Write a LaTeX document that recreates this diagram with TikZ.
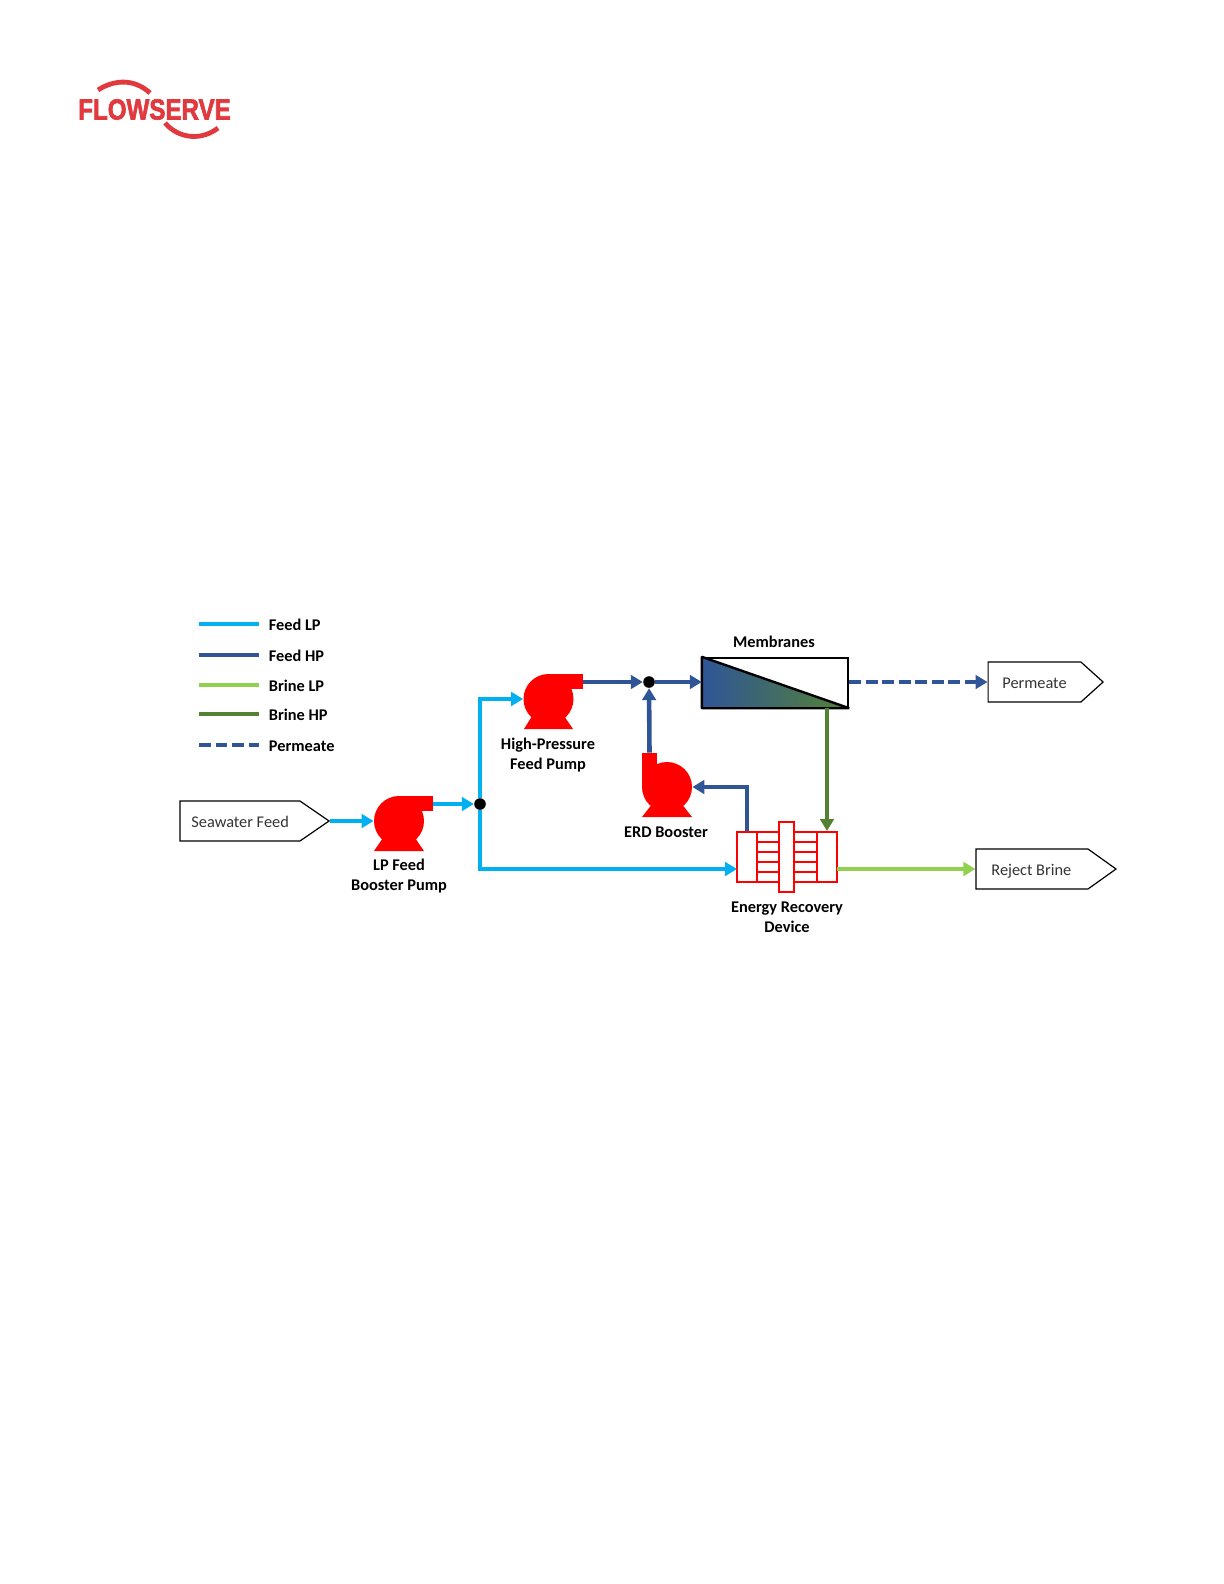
\documentclass[tikz,border=0pt]{standalone}
\usepackage{fontspec}
\setmainfont{Carlito}
\newfontfamily\logofont[BoldFeatures={FakeBold=2.4}]{Liberation Sans}
\usepackage{xcolor}
\definecolor{feedlpc}{HTML}{00B0F0}
\definecolor{feedhpc}{HTML}{2F5597}
\definecolor{brinelpc}{HTML}{92D050}
\definecolor{brinehpc}{HTML}{548235}
\definecolor{logored}{HTML}{E0393E}
\usetikzlibrary{calc, positioning, shapes.symbols, arrows.meta}

\tikzset{
  flow/.style={line width=2.3pt, -{Triangle[length=6pt, width=6.8pt]}},
  feedlp/.style={flow, feedlpc},
  feedhp/.style={flow, feedhpc},
  brinelp/.style={flow, brinelpc},
  brinehp/.style={flow, brinehpc},
  perm/.style={flow, feedhpc, dash pattern=on 6pt off 2.3pt},
  legline/.style={line width=2.2pt},
  legtext/.style={anchor=west, inner sep=0pt, text height=8pt, text depth=1.6pt, font=\fontsize{8.2}{10}\selectfont\bfseries},
  tag/.style={inner sep=0pt, align=center, font=\fontsize{8.2}{10}\selectfont\bfseries},
  portbox/.style={signal, signal to=east, draw=black, line width=0.6pt, inner sep=0pt, minimum height=20bp},
  porttext/.style={anchor=west, inner sep=0pt, text height=8pt, text depth=1.6pt, text=black!80, font=\fontsize{8.2}{10}\selectfont},
  pumpbody/.style={circle, fill=red, inner sep=0pt, minimum size=25bp},
  pumpout/.style={rectangle, fill=red, inner sep=0pt, minimum width=17bp, minimum height=7.5bp},
  junc/.style={circle, fill=black, inner sep=0pt, minimum size=5.8bp},
  erdpart/.style={rectangle, draw=red, fill=white, line width=1pt, inner sep=0pt}
}

\begin{document}
\begin{tikzpicture}[x=0.5bp, y=-0.5bp]
  \useasboundingbox (0,0) rectangle (1224,1584);

  % logo
  \node[inner sep=0pt, text=logored] (logo) at (154.5,109.5) {\scalebox{0.83}[1]{\fontsize{14.6}{16}\logofont\bfseries FLOWSERVE}};
  \draw[logored, line width=2.4pt] (98,90) .. controls (115,79) and (135,79) .. (150,93);
  \draw[logored, line width=2.4pt] (165,123) .. controls (180,140) and (203,140) .. (218,128);

  % legend
  \foreach \yy/\sty/\txt/\nm in {624/feedlpc/Feed LP/a, 655/feedhpc/Feed HP/b, 685/brinelpc/Brine LP/c, 714/brinehpc/Brine HP/d}{
    \coordinate (leg\nm) at (199,\yy);
    \draw[legline, \sty] (leg\nm) -- ++(60,0);
    \node[legtext] (legt\nm) at (268.5,\yy) {\txt};
  }
  \coordinate (lege) at (199,745);
  \draw[legline, feedhpc, dash pattern=on 6pt off 2.3pt] (lege) -- ++(60,0);
  \node[legtext] (legte) at (268.5,745) {Permeate};

  % end boxes
  \node[portbox, signal pointer angle=69, minimum width=74.5bp] (seawater) at (240,821) {};
  \node[porttext] (seawatert) at (191,821) {Seawater Feed};
  \node[portbox, signal pointer angle=84, minimum width=57.5bp] (permeate) at (1034.5,682) {};
  \node[porttext] (permeatet) at (1002,682) {Permeate};
  \node[portbox, signal pointer angle=71, minimum width=70bp] (reject) at (1032,869) {};
  \node[porttext] (rejectt) at (991,869) {Reject Brine};

  % pumps
  \fill[red] (385,835) -- (413,835) -- (424,851) -- (374,851) -- cycle;
  \node[pumpbody] (lppump) at (399,821) {};
  \node[pumpout] (lpout) at (416,803.5) {};
  \node[tag] (lplabel) at (399,876.5) {LP Feed\\Booster Pump};

  \fill[red] (534,713) -- (562,713) -- (573,729) -- (524,729) -- cycle;
  \node[pumpbody] (hppump) at (548.5,699) {};
  \node[pumpout] (hpout) at (566,681.5) {};
  \node[tag] (hplabel) at (548,755) {High-Pressure\\Feed Pump};

  \fill[red] (653,803) -- (681,803) -- (692,817) -- (642,817) -- cycle;
  \node[pumpbody] (erdpump) at (667,787) {};
  \node[pumpout, minimum width=7.5bp, minimum height=17bp] (erdout) at (649.5,770) {};
  \node[tag] (erdlabel) at (666,832) {ERD Booster};

  % membranes
  \node[rectangle, draw=black, line width=1.2pt, inner sep=0pt, minimum width=72.5bp, minimum height=24.5bp] (memb) at (775.5,682.5) {};
  \begin{scope}
    \clip (memb.north west) -- (memb.south east) -- (memb.south west) -- cycle;
    \shade[left color=feedhpc, right color=brinehpc] (memb.north west) rectangle (memb.south east);
  \end{scope}
  \draw[line width=1.2pt, line join=bevel] (memb.north west) -- (memb.south east) -- (memb.south west) -- cycle;
  \node[tag] (memblabel) at (774,642) {Membranes};

  % energy recovery device
  \node[erdpart, minimum width=50bp, minimum height=25bp] (erd) at (787,857) {};
  \foreach \yy in {842,852,862,872}{
    \draw[red, line width=1pt] (757,\yy) -- (817,\yy);
  }
  \node[erdpart, minimum width=10bp, minimum height=25bp] (erdl) at (747,857) {};
  \node[erdpart, minimum width=10bp, minimum height=25bp] (erdr) at (827,857) {};
  \node[erdpart, minimum width=7.5bp, minimum height=35bp] (erdc) at (786.5,857) {};
  \node[tag] (erdname) at (787,917) {Energy Recovery\\Device};

  % connectors
  \node[junc] (dotfeed) at (480,804) {};
  \node[junc] (dotmemb) at (649,682) {};
  \coordinate (erdin) at (737,869);
  \coordinate (erdoff) at (837,869);
  \draw[feedlp] (seawater.east) -- (lppump.west);
  \draw[feedlp] (lpout.east |- dotfeed) -- (dotfeed);
  \draw[feedlp] (dotfeed) |- (hppump.west);
  \draw[feedlp] (dotfeed) |- (erdin);
  \draw[feedhp] (hpout.east |- dotmemb) -- (dotmemb);
  \draw[feedhp] (dotmemb) -- (memb.west |- dotmemb);
  \draw[feedhp] (erdout.north) -- (dotmemb);
  \draw[feedhp] (erdl.north) |- (erdpump.east);
  \draw[perm] (memb.east |- dotmemb) -- (permeate.west);
  \draw[brinehp] (erdr.north |- memb.south) -- (erdr.north);
  \draw[brinelp] (erdoff) -- (reject.west);
\end{tikzpicture}
\end{document}
